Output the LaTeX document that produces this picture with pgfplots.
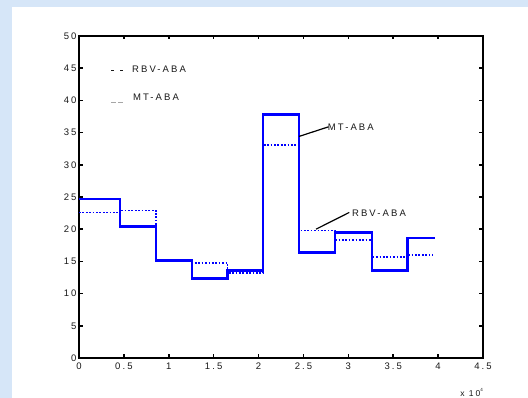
\documentclass[border=0pt]{standalone}
\usepackage{fontspec}
\setmainfont{Liberation Sans}[LetterSpace=22]
\usepackage{pgfplots}
\pgfplotsset{compat=1.18}
\definecolor{bgblue}{RGB}{214,230,248}
\definecolor{lineblue}{RGB}{0,0,255}
\definecolor{labgray}{RGB}{25,25,25}
\newcommand{\lf}{\fontsize{9.5}{11}\selectfont}
\begin{document}
\begin{tikzpicture}[x=1pt,y=1pt]
\fill[bgblue] (0,0) rectangle (528,398);
\fill[white] (12,0) rectangle (528,391);
\begin{axis}[
  at={(79pt,40pt)}, anchor=south west,
  scale only axis, width=404pt, height=322pt,
  xmin=0, xmax=4.5, ymin=0, ymax=50,
  xtick={0,0.5,1,1.5,2,2.5,3,3.5,4,4.5},
  xticklabels={0,0.5,1,1.5,2,2.5,3,3.5,4,4.5},
  ytick={0,5,10,15,20,25,30,35,40,45,50},
  yticklabels={0,5,10,15,20,25,30,35,40,45,50},
  tick align=inside,
  major tick length=3.5pt,
  axis line style={black, line width=2pt},
  tick style={black, line width=1.5pt},
  every tick label/.append style={font=\lf, text=labgray},
  /pgf/number format/assume math mode=true,
  xticklabel style={yshift=-1pt},
  yticklabel style={xshift=1pt},
  clip=false,
]
\addplot[lineblue, line width=1.7pt, dash pattern=on 1.7pt off 1.7pt, const plot mark left] coordinates {
  (0,22.6) (0.46,22.9) (0.86,15.15) (1.26,14.8) (1.655,13.2) (2.05,33.1) (2.45,19.8) (2.85,18.3) (3.26,15.7) (3.66,16.0) (3.94,16.0)
};
\addplot[lineblue, line width=2.3pt, const plot mark left] coordinates {
  (0,24.7) (0.46,20.4) (0.86,15.15) (1.26,12.36) (1.655,13.6) (2.05,37.8) (2.45,16.4) (2.85,19.5) (3.26,13.6) (3.66,18.6) (3.96,18.6)
};
% legend
\draw[labgray, line width=0.9pt] (axis cs:0.357,44.7) -- (axis cs:0.39,44.7);
\draw[labgray, line width=0.9pt] (axis cs:0.46,44.7) -- (axis cs:0.493,44.7);
\node[anchor=west, text=labgray, font=\lf, inner sep=0pt] at (axis cs:0.59,44.8) {RBV-ABA};
\draw[gray!70, line width=0.9pt] (axis cs:0.357,39.7) -- (axis cs:0.415,39.7);
\draw[gray!70, line width=0.9pt] (axis cs:0.435,39.7) -- (axis cs:0.49,39.7);
\node[anchor=west, text=labgray, font=\lf, inner sep=0pt] at (axis cs:0.60,40.5) {MT-ABA};
% annotations
\draw[black, line width=1.2pt] (axis cs:2.45,34.4) -- (axis cs:2.78,35.9);
\node[anchor=west, text=labgray, font=\lf, inner sep=0pt] at (axis cs:2.77,35.8) {MT-ABA};
\draw[black, line width=1.2pt] (axis cs:2.64,20.0) -- (axis cs:3.01,22.6);
\node[anchor=west, text=labgray, font=\lf, inner sep=0pt] at (axis cs:3.04,22.5) {RBV-ABA};
% scale label
\node[anchor=east, text=labgray, font=\fontsize{8.5}{10}\selectfont, inner sep=0pt] at ([yshift=-34pt]rel axis cs:1,0) {x 10\raisebox{5pt}{\fontsize{4.5}{5}\selectfont 4}};
\end{axis}
\pgfresetboundingbox
\path (0,0) rectangle (528,398);
\end{tikzpicture}
\end{document}
